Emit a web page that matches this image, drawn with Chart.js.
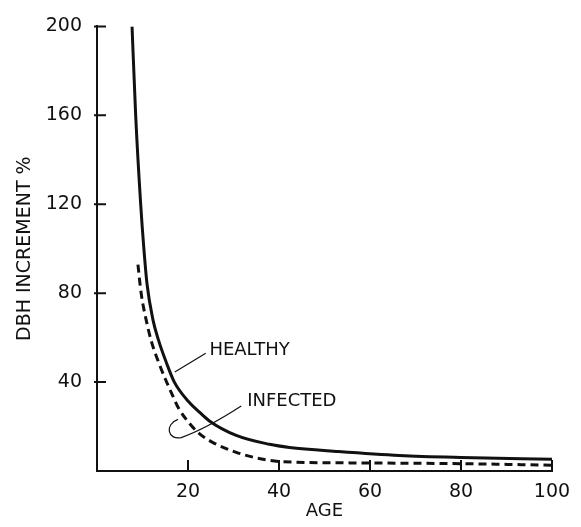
<!DOCTYPE html>
<html>
<head>
<meta charset="utf-8">
<script src="https://cdn.jsdelivr.net/npm/chart.js@4.4.1/dist/chart.umd.min.js"></script>
<style>
  html, body { margin: 0; padding: 0; background: #fff; }
  #wrap { width: 581px; height: 527px; }
</style>
</head>
<body>
<div id="wrap"><canvas id="dbhChart"></canvas></div>
<script>
/* ====== data ===== */
const healthyAge   = [7.7, 8.5, 9.6, 10.3, 11, 12.3, 13.5, 15.2, 17, 20, 22.5, 24.7, 30.6, 37.9, 42.3, 53, 66.5, 80, 100];
const healthyValue = [200, 160, 120, 100, 84, 68, 59, 49, 40, 31.5, 26.5, 22.5, 16, 12, 10.6, 8.8, 7, 6.1, 5.3];

const infectedAge   = [9, 9.7, 10.8, 12, 13.7, 15.2, 16.5, 18, 20.3, 22.5, 25.4, 30.6, 37.2, 40.8, 60, 80, 100];
const infectedValue = [92.8, 80, 68, 58, 48, 40.5, 34.5, 28, 21.5, 16.8, 12.9, 8.4, 5, 4.2, 3.6, 3.3, 2.6];

const xTicks = [20, 40, 60, 80, 100];
const yTicks = [40, 80, 120, 160, 200];

const ink = '#111';
const font = 'DejaVu Sans';

const toPoints = (xs, ys) => xs.map((v, i) => ({x: v, y: ys[i]}));

/* ====== ticks drawn inward, like the original ===== */
const inwardTicks = {
    id: 'inwardTicks',
    afterDraw(chart) {
        const {ctx, chartArea, scales: {x, y}} = chart;
        ctx.save();
        ctx.strokeStyle = ink;
        ctx.lineWidth = 2;
        ctx.beginPath();
        xTicks.forEach(v => {
            const px = x.getPixelForValue(v);
            ctx.moveTo(px, chartArea.bottom);
            ctx.lineTo(px, chartArea.bottom - 11);
        });
        yTicks.forEach(v => {
            const py = y.getPixelForValue(v);
            ctx.moveTo(chartArea.left - 3, py);
            ctx.lineTo(chartArea.left + 9, py);
        });
        ctx.stroke();
        ctx.restore();
    }
};

/* ====== curve labels with leader lines ===== */
const curveLabels = {
    id: 'curveLabels',
    afterDatasetsDraw(chart) {
        const {ctx, scales: {x, y}} = chart;
        const P = (a, v) => [x.getPixelForValue(a), y.getPixelForValue(v)];
        ctx.save();
        ctx.strokeStyle = ink;
        ctx.lineWidth = 1.2;

        // HEALTHY leader
        ctx.beginPath();
        ctx.moveTo(...P(23.9, 53));
        ctx.lineTo(...P(17.1, 44.5));
        ctx.stroke();

        // INFECTED leader, hooking round the dashed curve
        ctx.beginPath();
        ctx.moveTo(...P(31.7, 29.2));
        ctx.quadraticCurveTo(...P(24, 19), ...P(18.5, 15));
        ctx.bezierCurveTo(...P(15.5, 13.8), ...P(14.8, 21), ...P(17.8, 23.2));
        ctx.stroke();

        ctx.fillStyle = ink;
        ctx.font = '18px "' + font + '"';
        ctx.textBaseline = 'middle';
        ctx.textAlign = 'left';
        let p = P(24.7, 54.5);
        ctx.fillText('HEALTHY', p[0], p[1]);
        p = P(33, 31.3);
        ctx.fillText('INFECTED', p[0], p[1]);
        ctx.restore();
    }
};

const dbhData = {
    datasets: [
        {
            label: 'HEALTHY',
            data: toPoints(healthyAge, healthyValue),
            borderColor: ink,
            borderWidth: 3,
            pointRadius: 0,
            cubicInterpolationMode: 'monotone',
            fill: false,
        },
        {
            label: 'INFECTED',
            data: toPoints(infectedAge, infectedValue),
            borderColor: ink,
            borderWidth: 3,
            borderDash: [8, 5],
            pointRadius: 0,
            cubicInterpolationMode: 'monotone',
            fill: false,
        }
    ]
};

const dbhConfig = {
    type: 'line',
    data: dbhData,
    options: {
        responsive: true,
        maintainAspectRatio: false,
        animation: false,
        layout: { padding: { top: 20, right: 29, left: 0, bottom: 0 } },
        plugins: {
            legend: { display: false },
            tooltip: { enabled: false },
        },
        scales: {
            x: {
                type: 'linear',
                min: 0,
                max: 100,
                afterFit: s => { s.height = 56; },
                grid: { display: false, drawTicks: false },
                border: { display: true, color: ink, width: 2 },
                ticks: {
                    stepSize: 20,
                    autoSkip: false,
                    maxRotation: 0,
                    padding: 10,
                    color: ink,
                    font: { family: font, size: 19 },
                    callback: v => (v === 0 ? '' : v),
                },
                title: {
                    display: true,
                    text: 'AGE',
                    color: ink,
                    font: { family: font, size: 18 },
                    padding: { top: 0, bottom: 5 },
                },
            },
            y: {
                min: 0,
                max: 200,
                afterFit: s => { s.width = 97; },
                grid: { display: false, drawTicks: false },
                border: { display: true, color: ink, width: 2 },
                ticks: {
                    stepSize: 40,
                    autoSkip: false,
                    padding: 15,
                    color: ink,
                    font: { family: font, size: 19 },
                    callback: v => (v === 0 ? '' : v),
                },
                title: {
                    display: true,
                    text: 'DBH INCREMENT %',
                    color: ink,
                    font: { family: font, size: 19 },
                    padding: { top: 14, bottom: 0 },
                },
            },
        },
    },
    plugins: [inwardTicks, curveLabels],
};

const dbhChart = new Chart(
    document.querySelector('#dbhChart'),
    dbhConfig
);
</script>
</body>
</html>
